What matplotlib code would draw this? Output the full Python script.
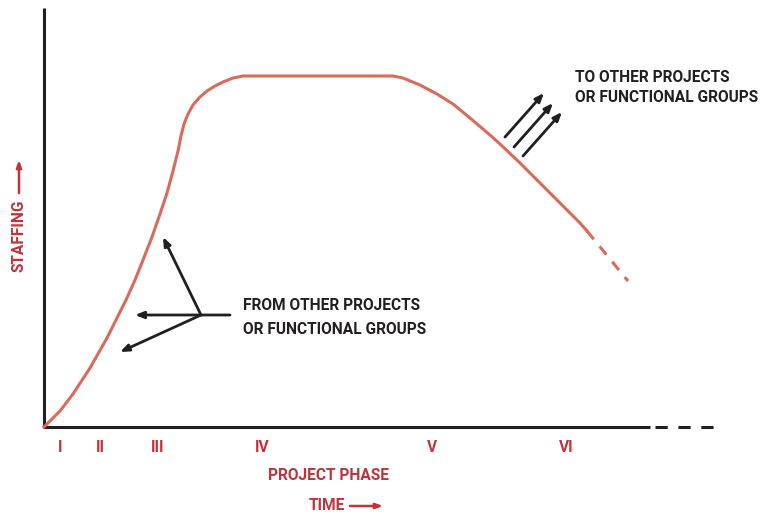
import matplotlib.pyplot as plt
import numpy as np

# staffing curve in pixel units (y grows downward)
curve_x = [44, 60, 73, 90, 107, 117, 126, 135, 143, 152, 160, 167, 173, 178, 181, 184,
           188, 193, 200, 207, 215, 223, 233, 243,
           393, 403, 420, 437, 453, 470, 490, 500, 520, 540, 560, 580, 587]
curve_y = [427, 411, 394, 368, 338, 318, 300, 280, 260, 237, 214, 193, 171, 151, 136, 124,
           114, 105, 97, 91, 86, 82, 78, 76,
           76, 78, 85, 94, 104, 118, 135, 144, 163, 183, 203, 223, 231]
tail_x = [587, 628]
tail_y = [231, 281]

phase_labels = ["I", "II", "III", "IV", "V", "VI"]
phase_x = [60, 100, 158, 262, 432, 566]

red = "#c1323c"
salmon = "#d96a5c"
font = ["Roboto", "Liberation Sans", "DejaVu Sans"]

fig = plt.figure(figsize=(7.64, 5.14), dpi=100)
ax = fig.add_axes([0, 0, 1, 1])
ax.set_xlim(0, 764)
ax.set_ylim(514, 0)
ax.axis("off")

# axes
ax.plot([44, 44], [8, 427], color="#231f20", lw=2.2, solid_capstyle="butt")
ax.plot([43, 650], [427, 427], color="#231f20", lw=2.2, solid_capstyle="butt")
ax.plot([655, 715], [427, 427], color="#231f20", lw=2.2, dashes=(4, 3.5))

ax.plot(curve_x, curve_y, color=salmon, lw=2.2, solid_joinstyle="round")
ax.plot(tail_x, tail_y, color=salmon, lw=2.2, dashes=(3.5, 3.0))

# incoming arrows
arr = dict(arrowstyle="-|>,head_length=0.5,head_width=0.2", color="#231f20", lw=2.0,
           shrinkA=0, shrinkB=0)
ax.annotate("", xy=(163, 237), xytext=(201, 315), arrowprops=arr)
ax.annotate("", xy=(135, 315), xytext=(230, 315), arrowprops=arr)
ax.annotate("", xy=(120, 352), xytext=(201, 315), arrowprops=arr)

# outgoing arrows
ax.annotate("", xy=(544, 93), xytext=(505, 137), arrowprops=arr)
ax.annotate("", xy=(553, 103), xytext=(514, 147), arrowprops=arr)
ax.annotate("", xy=(562, 112), xytext=(523, 156), arrowprops=arr)

txt = dict(fontsize=11.2, fontweight="bold", family=font)
ax.text(243, 306, "FROM OTHER PROJECTS", color="#231f20", va="center", **txt)
ax.text(243, 330, "OR FUNCTIONAL GROUPS", color="#231f20", va="center", **txt)
ax.text(575, 78, "TO OTHER PROJECTS", color="#231f20", va="center", **txt)
ax.text(575, 98, "OR FUNCTIONAL GROUPS", color="#231f20", va="center", **txt)

for lab, x in zip(phase_labels, phase_x):
    ax.text(x, 448, lab, color=red, ha="center", va="center", **txt)

ax.text(328, 475, "PROJECT PHASE", color=red, ha="center", va="center", **txt)
ax.text(327, 506, "TIME", color=red, ha="center", va="center", **txt)
red_arr = dict(arrowstyle="-|>,head_length=0.4,head_width=0.15", color=red, lw=1.8,
               shrinkA=0, shrinkB=0)
ax.annotate("", xy=(383, 506), xytext=(350, 506), arrowprops=red_arr)

ax.text(19, 236, "STAFFING", color=red, ha="center", va="center", rotation=90, **txt)
ax.annotate("", xy=(19, 160), xytext=(19, 193), arrowprops=red_arr)

plt.savefig("out.png", dpi=100)
